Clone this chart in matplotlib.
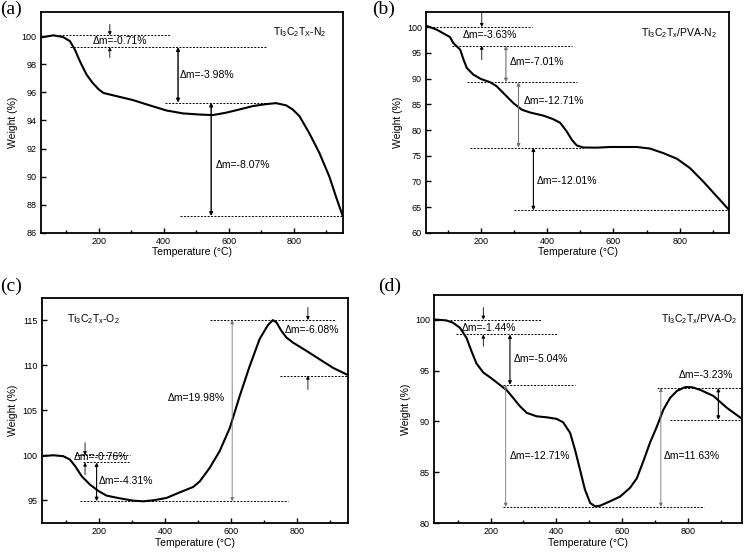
import numpy as np
import matplotlib
matplotlib.use("Agg")
import matplotlib.pyplot as plt
from matplotlib.ticker import MultipleLocator

plt.rcParams['font.family'] = ['Liberation Sans', 'DejaVu Sans']
plt.rcParams['mathtext.fontset'] = 'custom'
plt.rcParams['mathtext.rm'] = 'Liberation Sans'
plt.rcParams['mathtext.it'] = 'Liberation Sans'

# (a) Ti3C2Tx - N2
t_a = [22, 60, 90, 111, 126, 142, 162, 180, 200, 215, 254, 305, 357, 408, 459, 510,
       551, 592, 633, 674, 715, 746, 777, 797, 818, 848, 879, 910, 930, 951]
w_a = [99.9, 100.05, 99.93, 99.64, 99.05, 98.2, 97.27, 96.7, 96.2, 95.95, 95.73, 95.45,
       95.07, 94.71, 94.5, 94.42, 94.38, 94.55, 94.78, 95.02, 95.16, 95.23, 95.07, 94.78,
       94.3, 93.1, 91.7, 90.0, 88.6, 87.2]

# (b) Ti3C2Tx/PVA - N2
t_b = [34, 66, 106, 116, 137, 147, 157, 177, 200, 227, 247, 267, 298, 323, 348, 388,
       418, 439, 459, 474, 489, 509, 549, 590, 670, 710, 751, 792, 831, 871, 912, 950]
w_b = [100.26, 99.5, 98.06, 96.9, 95.6, 93.66, 92.04, 90.74, 89.9, 89.3, 88.5, 87.2,
       85.2, 83.95, 83.4, 82.8, 82.1, 81.4, 79.7, 78.1, 77.0, 76.6, 76.57, 76.7, 76.7,
       76.4, 75.5, 74.4, 72.6, 70.0, 67.1, 64.4]

# (c) Ti3C2Tx - O2
t_c = [27, 62, 92, 112, 128, 148, 173, 200, 223, 263, 304, 334, 364, 404, 445, 485,
       505, 535, 565, 596, 626, 656, 686, 711, 726, 737, 752, 767, 787, 827, 867, 908, 953]
w_c = [99.9, 100.0, 99.9, 99.53, 98.8, 97.67, 96.74, 96.0, 95.52, 95.22, 94.96, 94.89,
       95.0, 95.26, 95.89, 96.48, 97.1, 98.6, 100.45, 103.05, 106.6, 109.9, 112.9, 114.44,
       115.0, 114.74, 113.8, 113.07, 112.5, 111.6, 110.66, 109.7, 108.9]

# (d) Ti3C2Tx/PVA - O2
t_d = [28, 66, 86, 107, 127, 142, 157, 178, 200, 228, 249, 269, 289, 310, 340, 371,
       401, 421, 442, 457, 472, 487, 503, 518, 533, 563, 594, 624, 645, 665, 685, 706,
       726, 746, 767, 792, 812, 838, 878, 919, 965]
w_d = [100.03, 99.93, 99.7, 99.2, 98.2, 96.9, 95.7, 94.8, 94.3, 93.6, 93.07, 92.3, 91.5,
       90.84, 90.5, 90.4, 90.25, 89.9, 88.87, 87.2, 85.26, 83.3, 81.97, 81.64, 81.7, 82.13,
       82.6, 83.45, 84.4, 86.1, 87.9, 89.5, 91.17, 92.3, 93.0, 93.37, 93.37, 93.1, 92.5,
       91.33, 90.25]

# dashed reference levels: (y, x0, x1)
lev_a = [(100.05, 55, 418), (99.22, 111, 715), (95.27, 403, 736), (87.2, 449, 951)]
lev_b = [(100.0, 34, 353), (96.4, 111, 474), (89.3, 157, 489), (76.6, 167, 509), (64.4, 298, 950)]
lev_c = [(100.0, 128, 294), (99.2, 152, 290), (94.9, 143, 772), (115.0, 535, 913), (108.85, 747, 953)]
lev_d = [(100.0, 76, 355), (98.55, 96, 401), (93.6, 239, 457), (81.6, 239, 848),
         (93.3, 706, 966), (90.15, 746, 966)]

# double arrows: (x, y0, y1, colour, lw)
arr_a = [(444, 99.22, 95.27, 'k', 1.0), (546, 95.27, 87.2, 'k', 1.0)]
arr_b = [(275, 96.4, 89.3, '0.45', 0.8), (313, 89.3, 76.6, '0.45', 0.8), (358, 76.6, 64.4, 'k', 0.8)]
arr_c = [(193, 99.2, 94.9, 'k', 0.8), (603, 115.0, 94.9, '0.45', 0.6)]
arr_d = [(259, 98.55, 93.6, 'k', 0.8), (246, 93.6, 81.6, '0.45', 0.6),
         (718, 81.6, 93.3, '0.45', 0.6), (893, 93.3, 90.15, 'k', 0.8)]

# outside arrows: (x, y_top_start, y_top, y_bot, y_bot_start)
out_a = [(234, 100.83, 100.05, 99.22, 98.46)]
out_b = [(202, 102.7, 100.0, 96.4, 93.66)]
out_c = [(158, 101.4, 100.0, 99.2, 97.85), (832, 116.4, 115.0, 108.85, 107.3)]
out_d = [(178, 101.2, 100.0, 98.55, 97.4)]

# annotation text: (x, y, text, ha)
txt_a = [(265, 99.64, '\u0394m=-0.71%', 'center'), (449, 97.2, '\u0394m=-3.98%', 'left'),
         (561, 90.8, '\u0394m=-8.07%', 'left')]
txt_b = [(227, 98.5, '\u0394m=-3.63%', 'center'), (288, 93.3, '\u0394m=-7.01%', 'left'),
         (328, 85.55, '\u0394m=-12.71%', 'left'), (368, 70.0, '\u0394m=-12.01%', 'left')]
txt_c = [(124, 99.83, '\u0394m=-0.76%', 'left'), (198, 97.1, '\u0394m=-4.31%', 'left'),
         (580, 106.3, '\u0394m=19.98%', 'right'), (762, 113.9, '\u0394m=-6.08%', 'left')]
txt_d = [(112, 99.2, '\u0394m=-1.44%', 'left'), (269, 96.1, '\u0394m=-5.04%', 'left'),
         (259, 86.6, '\u0394m=-12.71%', 'left'), (726, 86.6, '\u0394m=11.63%', 'left'),
         (772, 94.6, '\u0394m=-3.23%', 'left')]

panels = [
    dict(rect=[0.055, 0.578, 0.405, 0.400], t=t_a, w=w_a, xlim=(22, 951), ylim=(86, 101.7),
         ystep=2, lev=lev_a, arr=arr_a, out=out_a, txt=txt_a,
         name=r'Ti$_3$C$_2$T$_X$-N$_2$', npos=(0.945, 0.91, 'right'), tag='(a)', tpos=(0.0, 0.998)),
    dict(rect=[0.572, 0.578, 0.407, 0.400], t=t_b, w=w_b, xlim=(34, 950), ylim=(60, 102.9),
         ystep=5, lev=lev_b, arr=arr_b, out=out_b, txt=txt_b,
         name=r'Ti$_3$C$_2$T$_x$/PVA-N$_2$', npos=(0.958, 0.905, 'right'), tag='(b)', tpos=(0.5, 0.998)),
    dict(rect=[0.056, 0.0525, 0.411, 0.4076], t=t_c, w=w_c, xlim=(27, 953), ylim=(92.48, 117.45),
         ystep=5, lev=lev_c, arr=arr_c, out=out_c, txt=txt_c,
         name=r'Ti$_3$C$_2$T$_x$-O$_2$', npos=(0.082, 0.906, 'left'), tag='(c)', tpos=(0.0, 0.497)),
    dict(rect=[0.5826, 0.0525, 0.4134, 0.413], t=t_d, w=w_d, xlim=(28, 965), ylim=(80, 102.43),
         ystep=5, lev=lev_d, arr=arr_d, out=out_d, txt=txt_d,
         name=r'Ti$_3$C$_2$T$_x$/PVA-O$_2$', npos=(0.985, 0.893, 'right'), tag='(d)', tpos=(0.508, 0.497)),
]

fig = plt.figure(figsize=(7.45, 5.52), dpi=100)

for p in panels:
    ax = fig.add_axes(p['rect'])
    ax.plot(p['t'], p['w'], color='k', lw=1.5, solid_capstyle='round', solid_joinstyle='round')
    for y, x0, x1 in p['lev']:
        ax.plot([x0, x1], [y, y], color='k', lw=0.7, ls=(0, (2, 1.5)))
    for x, y0, y1, c, lw in p['arr']:
        ax.annotate('', xy=(x, y1), xytext=(x, y0),
                    arrowprops=dict(arrowstyle='<|-|>', color=c, lw=lw, mutation_scale=5,
                                    shrinkA=0, shrinkB=0))
    for x, ys, yt, yb, ybs in p['out']:
        ax.annotate('', xy=(x, yt), xytext=(x, ys),
                    arrowprops=dict(arrowstyle='-|>', color='k', lw=0.6, mutation_scale=5,
                                    shrinkA=0, shrinkB=0))
        ax.annotate('', xy=(x, yb), xytext=(x, ybs),
                    arrowprops=dict(arrowstyle='-|>', color='k', lw=0.6, mutation_scale=5,
                                    shrinkA=0, shrinkB=0))
    for x, y, s, ha in p['txt']:
        ax.text(x, y, s, ha=ha, va='center', fontsize=7.5)
    nx, ny, nha = p['npos']
    ax.text(nx, ny, p['name'], transform=ax.transAxes, ha=nha, va='center', fontsize=7.5)
    fig.text(p['tpos'][0], p['tpos'][1], p['tag'], ha='left', va='top', fontsize=14,
             family='Liberation Serif')

    ax.set_xlim(*p['xlim'])
    ax.set_ylim(*p['ylim'])
    ax.xaxis.set_major_locator(MultipleLocator(200))
    ax.xaxis.set_minor_locator(MultipleLocator(100))
    ax.yaxis.set_major_locator(MultipleLocator(p['ystep']))
    ax.tick_params(which='both', direction='in', labelsize=6.5, width=1.0)
    ax.tick_params(which='major', length=3.5, pad=3)
    ax.tick_params(which='minor', length=2.5)
    ax.tick_params(axis='y', which='minor', left=False)
    for s in ax.spines.values():
        s.set_linewidth(1.3)
    ax.set_xlabel('Temperature (\u00b0C)', fontsize=7.5, labelpad=1)
    ax.set_ylabel('Weight (%)', fontsize=7.5, labelpad=3)

fig.savefig('out.png', dpi=100)
